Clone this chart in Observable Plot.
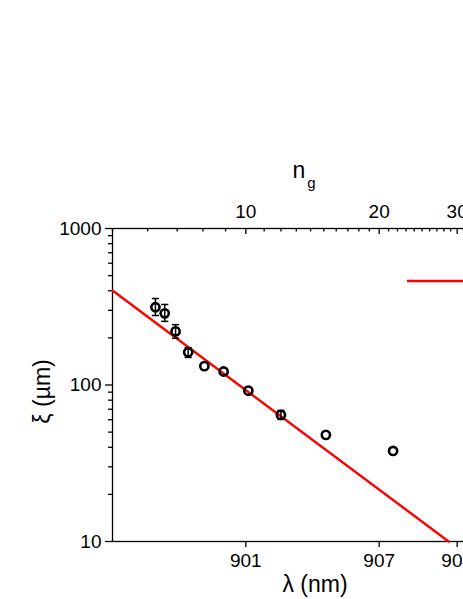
<!DOCTYPE html>
<html>
<head>
<meta charset="utf-8">
<script src="https://cdn.jsdelivr.net/npm/d3@7"></script>
<script src="https://cdn.jsdelivr.net/npm/@observablehq/plot@0.6"></script>
<style>
  html, body { margin: 0; padding: 0; overflow: hidden; background: white; }
  #chart { width: 560px; height: 599px; }
</style>
</head>
<body>
<div id="chart"></div>
<script>
// Group index n_g of each measured point (top axis, log scale)
const ng = [6.25, 6.56, 6.94, 7.41, 8.06, 8.91, 10.13, 12.0, 15.16, 21.5];
// Localization length xi (µm)
const xi = [314, 287, 220, 162, 132, 122, 92, 64.4, 48, 37.9];
const xiLo = [278, 255, 199, 150, 132, 122, 92, 60.3, 48, 37.9];
const xiHi = [357, 327, 243, 173, 132, 122, 92, 68.8, 48, 37.9];
// Fitted power-law line
const fitNg = [5, 28.7];
const fitXi = [401.6, 10];
// Axes
const topMajor = [10, 20, 30];
const topMinor = [5,6,7,8,9,11,12,13,14,15,16,17,18,19,21,22,23,24,25,26,27,28,29,31,32,33,34,35,36,37,38,39,40];
const bottomTickNg = [10, 20, 30];
const bottomLabels = ["901", "907", "909"];
const yMajor = [10, 100, 1000];
const yMinor = [20,30,40,50,60,70,80,90,200,300,400,500,600,700,800,900];

const points = ng.map((n, i) => ({ng: n, xi: xi[i], lo: xiLo[i], hi: xiHi[i]}));
const bars = points.filter(d => d.hi > d.lo);
const fit = fitNg.map((n, i) => ({ng: n, xi: fitXi[i]}));
const bottomLabelOf = new Map(bottomTickNg.map((n, i) => [n, bottomLabels[i]]));

const cap = { draw(ctx) { ctx.moveTo(-3.6, 0); ctx.lineTo(3.6, 0); } };
const font = "'Liberation Sans', Arial, Helvetica, sans-serif";
const plotH = 599 - 228 - 58;

const chart = Plot.plot({
  width: 560,
  height: 599,
  marginLeft: 112,
  marginRight: 48,
  marginTop: 228,
  marginBottom: 58,
  style: { fontFamily: font, fontSize: "19px", color: "black", background: "white", maxWidth: "none", overflow: "visible" },
  x: { type: "log", domain: [5, 40] },
  y: { type: "log", domain: [10, 1000] },
  marks: [
    Plot.frame({ stroke: "black", strokeWidth: 1.3 }),
    // left axis
    Plot.axisY(yMajor, { anchor: "left", tickSize: 7, tickPadding: 4, tickFormat: d => String(d), label: null, strokeWidth: 1.3, fontSize: 19 }),
    Plot.axisY(yMinor, { anchor: "left", tickSize: 4, tickFormat: () => "", label: null, strokeWidth: 1.3 }),
    // top axis (n_g): inward ticks
    Plot.tickX(topMajor, { x: d => d, insetBottom: plotH - 6, stroke: "black", strokeWidth: 1.3 }),
    Plot.tickX(topMinor, { x: d => d, insetBottom: plotH - 3.5, stroke: "black", strokeWidth: 1.3 }),
    Plot.axisX(topMajor, { anchor: "top", tickSize: 0, tickPadding: 11, tickFormat: d => String(d), label: null, fontSize: 19 }),
    // bottom axis (lambda)
    Plot.axisX(bottomTickNg, { anchor: "bottom", tickSize: 6, tickPadding: 6, tickFormat: d => bottomLabelOf.get(d), label: null, strokeWidth: 1.3, fontSize: 19 }),
    // fit line
    Plot.line(fit, { x: "ng", y: "xi", stroke: "#ff0000", strokeWidth: 2.4 }),
    // error bars
    Plot.ruleX(bars, { x: "ng", y1: "lo", y2: "hi", stroke: "black", strokeWidth: 1.5 }),
    Plot.dot(bars, { x: "ng", y: "lo", symbol: cap, r: 4, fill: "none", stroke: "black", strokeWidth: 1.5 }),
    Plot.dot(bars, { x: "ng", y: "hi", symbol: cap, r: 4, fill: "none", stroke: "black", strokeWidth: 1.5 }),
    // data points
    Plot.dot(points, { x: "ng", y: "xi", r: 4.1, fill: "none", stroke: "black", strokeWidth: 2.6 })
  ]
});

const svg = d3.select(chart);
// axis titles
const nTitle = svg.append("text")
  .attr("x", 304).attr("y", 178)
  .attr("font-family", font).attr("font-size", 23).attr("fill", "black");
nTitle.append("tspan").text("n");
nTitle.append("tspan").attr("font-size", 15).attr("dx", 2).attr("dy", 10).text("g");

svg.append("text")
  .attr("x", 315).attr("y", 592)
  .attr("text-anchor", "middle")
  .attr("font-family", font).attr("font-size", 23).attr("fill", "black")
  .text("λ (nm)");

svg.append("text")
  .attr("transform", "translate(50,391.5) rotate(-90)")
  .attr("text-anchor", "middle")
  .attr("font-family", font).attr("font-size", 23).attr("fill", "black")
  .text("ξ (µm)");

// legend sample (label lies beyond the visible crop)
svg.append("line")
  .attr("x1", 407).attr("x2", 490).attr("y1", 281).attr("y2", 281)
  .attr("stroke", "#ff0000").attr("stroke-width", 2.4);

document.getElementById("chart").appendChild(chart);
</script>
</body>
</html>
